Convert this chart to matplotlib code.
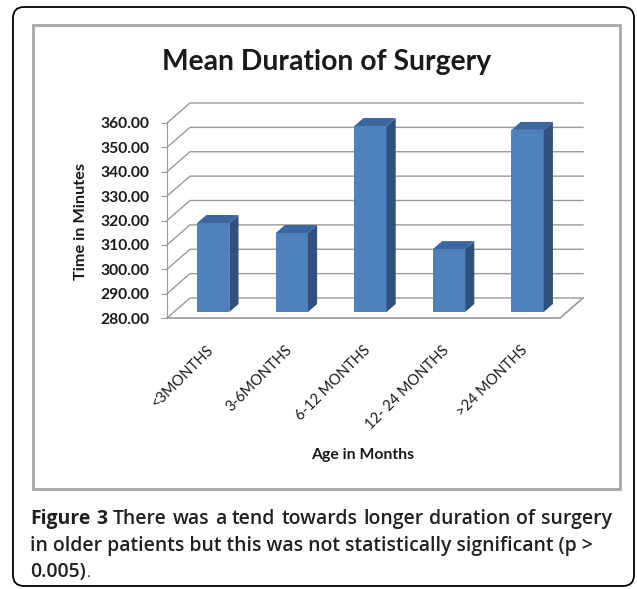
import matplotlib.pyplot as plt
from matplotlib.patches import Polygon, FancyBboxPatch, Rectangle

categories = ['<3MONTHS', '3-6MONTHS', '6-12 MONTHS', '12- 24 MONTHS', '>24 MONTHS']
mean_minutes = [316.5, 312.4, 356.3, 305.8, 354.7]
y_ticks = [280, 290, 300, 310, 320, 330, 340, 350, 360]

title = 'Mean Duration of Surgery'
x_label = 'Age in Months'
y_label = 'Time in Minutes'
caption_1 = [('Figure', 'bold'), ('3', 'bold'), ('There', 'semibold'), ('was', 'semibold'),
             ('a', 'semibold'), ('tend', 'semibold'), ('towards', 'semibold'),
             ('longer', 'semibold'), ('duration', 'semibold'), ('of', 'semibold'),
             ('surgery', 'semibold')]
caption_2 = 'in older patients but this was not statistically significant (p >'
caption_3 = '0.005)'

W, H = 637, 589
fig = plt.figure(figsize=(W / 100, H / 100), dpi=100)
renderer = fig.canvas.get_renderer()


def fit(t, target, vertical=False):
    # scale a text's font so it spans the wanted number of pixels
    bb = t.get_window_extent(renderer)
    cur = bb.height if vertical else bb.width
    t.set_fontsize(t.get_fontsize() * target / cur)


# pixel layer: frames, titles, caption
frame = fig.add_axes([0, 0, 1, 1])
frame.set_xlim(0, W)
frame.set_ylim(H, 0)
frame.axis('off')

frame.add_patch(FancyBboxPatch((13, 7), 621, 579, boxstyle='round,pad=0,rounding_size=11',
                               ec='black', fc='white', lw=1.3))
frame.add_patch(Rectangle((33, 25), 587, 464, ec='#a6a6a6', fc='none', lw=2))

chart_font = 'Lato'
cap_font = 'Open Sans'
t = frame.text(327, 62, title, ha='center', va='center', fontsize=20.5, fontweight='bold',
               family=chart_font, color='#1a1a1a')
fit(t, 329)
t = frame.text(363, 455, x_label, ha='center', va='center', fontsize=11.5,
               fontweight='bold', family=chart_font, color='#1a1a1a')
fit(t, 103)
t = frame.text(81, 222, y_label, ha='center', va='center', rotation=90, fontsize=11.3,
               fontweight='bold', family=chart_font, color='#1a1a1a')
fit(t, 118, vertical=True)

# caption: fit line 2, then justify line 1 with the same size
line2 = frame.text(30, 551, caption_2, ha='left', va='baseline', fontsize=14,
                   fontweight='semibold', family=cap_font, color='#231f20')
fit(line2, 567)
cap_size = line2.get_fontsize()
words = []
for w, wt in caption_1:
    t = frame.text(0, 524, w, ha='left', va='baseline', fontsize=cap_size, fontweight=wt,
                   family=cap_font, color='#231f20')
    words.append(t)
widths = [t.get_window_extent(renderer).width for t in words]
gap = (612 - 30 - sum(widths)) / (len(words) - 1)
x = 30
for t, wd in zip(words, widths):
    t.set_x(x)
    x += wd + gap
t3 = frame.text(30, 577, caption_3, ha='left', va='baseline', fontsize=cap_size,
                fontweight='semibold', family=cap_font, color='#231f20')
frame.text(31 + t3.get_window_extent(renderer).width, 577, '.', ha='left', va='baseline',
           fontsize=cap_size * 0.7, family=cap_font, color='#231f20')

# 3D-looking bar chart
ax = fig.add_axes([167 / W, 1 - 318 / H, 393 / W, 195 / H])
ax.patch.set_alpha(0)
xmin, xmax = -0.5, len(categories) - 0.5
ymin, ymax = y_ticks[0], y_ticks[-1]
ddx = 23 / 78.6
ddy = 20 / (195 / 80)
grid_c = '#9a9a9a'

for v in y_ticks:
    ax.plot([xmin, xmin + ddx, xmax + ddx], [v, v + ddy, v + ddy], color=grid_c, lw=1,
            clip_on=False, zorder=1)
ax.plot([xmin, xmax, xmax + ddx], [ymin, ymin, ymin + ddy], color=grid_c, lw=1.2,
        clip_on=False, zorder=1)

bw = 0.41
f0, f1 = 0.3, 0.7
front_c, side_c, top_c = '#4F81BD', '#30507E', '#3B66A0'
for i, v in enumerate(mean_minutes):
    xl = i - bw / 2 + f0 * ddx
    xr = xl + bw
    base = ymin + f0 * ddy
    top = v + f0 * ddy
    ddx2 = (f1 - f0) * ddx
    ddy2 = (f1 - f0) * ddy
    ax.bar(xl, v - ymin, width=bw, bottom=base, align='edge', color=front_c,
           clip_on=False, zorder=3)
    ax.add_patch(Polygon([(xr, base), (xr + ddx2, base + ddy2), (xr + ddx2, top + ddy2),
                          (xr, top)], closed=True, fc=side_c, ec='none', clip_on=False,
                         zorder=3))
    ax.add_patch(Polygon([(xl, top), (xr, top), (xr + ddx2, top + ddy2),
                          (xl + ddx2, top + ddy2)], closed=True, fc=top_c, ec='none',
                         clip_on=False, zorder=3))

ax.set_xlim(xmin, xmax)
ax.set_ylim(ymin, ymax)
for s in ['top', 'right', 'bottom']:
    ax.spines[s].set_visible(False)
ax.spines['left'].set_color(grid_c)
ax.set_yticks(y_ticks)
ax.set_yticklabels(['%.2f' % v for v in y_ticks], fontsize=12, fontweight='bold',
                   family=chart_font, color='#1a1a1a')
ax.tick_params(axis='y', length=4, color=grid_c, pad=8.5)
ax.set_xticks(range(len(categories)))
ax.set_xticklabels(categories, rotation=45, ha='right', rotation_mode='anchor',
                   fontsize=10.5, family=chart_font, color='#1a1a1a')
ax.tick_params(axis='x', length=0, pad=18)

fig.canvas.draw()
ylabs = ax.get_yticklabels()
scale = 49 / ylabs[-1].get_window_extent(renderer).width
for lab in ylabs:
    lab.set_fontsize(lab.get_fontsize() * scale)

fig.savefig('out.png', dpi=100)
